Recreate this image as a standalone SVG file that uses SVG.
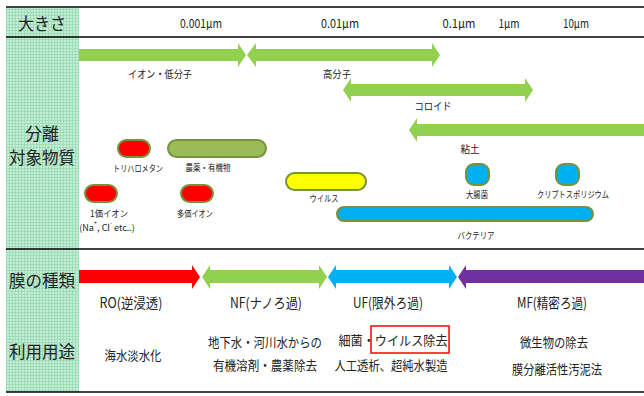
<svg xmlns="http://www.w3.org/2000/svg" width="644" height="396" viewBox="0 0 644 396">
<defs>
<pattern id="grid" width="3" height="3" patternUnits="userSpaceOnUse">
<rect width="3" height="3" fill="#c6edd5"/>
<path d="M0 0.5H3M0.5 0V3" stroke="#9fdcb8" stroke-width="1"/>
</pattern>
</defs>
<style>
text{font-family:"Noto Sans CJK JP","Liberation Sans",sans-serif;fill:#222;text-anchor:middle;dominant-baseline:central}
.hd{font-size:17px}
.sz{font-size:12px}
.lb{font-size:10.5px}
.sm{font-size:9px}
.mt{font-size:14px}
.us{font-size:13px}
.pill{stroke:#76923c;stroke-width:2}
.rule{stroke:#000;stroke-width:1.5}
</style>
<rect x="6" y="8" width="73" height="384" fill="url(#grid)"/>
<g id="rules">
<line class="rule" x1="6" y1="7" x2="644" y2="7"/>
<line class="rule" x1="6" y1="37" x2="644" y2="37"/>
<line class="rule" x1="6" y1="249" x2="644" y2="249"/>
<line class="rule" x1="6" y1="392" x2="644" y2="392"/>
</g>
<g id="row-labels">
<text class="hd" x="42" y="22" textLength="48" lengthAdjust="spacingAndGlyphs">大きさ</text>
<text class="hd" x="42" y="132" textLength="34" lengthAdjust="spacingAndGlyphs">分離</text>
<text class="hd" x="42" y="156" textLength="66" lengthAdjust="spacingAndGlyphs">対象物質</text>
<text class="hd" x="42" y="279" textLength="66" lengthAdjust="spacingAndGlyphs">膜の種類</text>
<text class="hd" x="42" y="350" textLength="66" lengthAdjust="spacingAndGlyphs">利用用途</text>
</g>
<g id="scale">
<text class="sz" x="201" y="22" textLength="42" lengthAdjust="spacingAndGlyphs">0.001μm</text>
<text class="sz" x="340" y="22" textLength="38" lengthAdjust="spacingAndGlyphs">0.01μm</text>
<text class="sz" x="459" y="22" textLength="33" lengthAdjust="spacingAndGlyphs">0.1μm</text>
<text class="sz" x="509" y="22" textLength="21" lengthAdjust="spacingAndGlyphs">1μm</text>
<text class="sz" x="576" y="22" textLength="26" lengthAdjust="spacingAndGlyphs">10μm</text>
</g>
<g id="connectors">
<polygon id="ion" fill="#92d050" points="79,49 238,49 238,43 246,55 238,67 238,61 79,61"/>
<polygon id="polymer" fill="#92d050" points="247,55 256,43 256,49 432,49 432,43 440,55 432,67 432,61 256,61 256,67"/>
<polygon id="colloid" fill="#92d050" points="343,90 351,78 351,84 525,84 525,78 533,90 525,102 525,96 351,96 351,102"/>
<polygon id="clay" fill="#92d050" points="409,130 417,118 417,124 644,124 644,136 417,136 417,142"/>
<polygon id="ro" fill="#ff0000" points="79,270 192,270 192,265 200,277 192,289 192,283 79,283"/>
<polygon id="nf" fill="#92d050" points="202,277 210,265 210,270 319,270 319,265 327,277 319,289 319,283 210,283 210,289"/>
<polygon id="uf" fill="#00b0f0" points="328,277 336,265 336,270 449,270 449,265 457,277 449,289 449,283 336,283 336,289"/>
<polygon id="mf" fill="#7030a0" points="458,277 466,265 466,270 644,270 644,283 466,283 466,289"/>
</g>
<g id="arrow-labels">
<text class="lb" x="160" y="73" textLength="64" lengthAdjust="spacingAndGlyphs">イオン・低分子</text>
<text class="lb" x="337" y="73" textLength="28" lengthAdjust="spacingAndGlyphs">高分子</text>
<text class="lb" x="433" y="105" textLength="37" lengthAdjust="spacingAndGlyphs">コロイド</text>
<text class="lb" x="470" y="148" textLength="19" lengthAdjust="spacingAndGlyphs">粘土</text>
</g>
<g id="thm"><rect class="pill" x="118" y="140" width="32" height="17" rx="8.5" fill="#ff0000"/><text class="sm" x="138" y="168" textLength="50" lengthAdjust="spacingAndGlyphs">トリハロメタン</text></g>
<g id="agro"><rect class="pill" x="168" y="140" width="98" height="17" rx="8.5" fill="#9bbb59"/><text class="sm" x="208" y="167" textLength="45" lengthAdjust="spacingAndGlyphs">農薬・有機物</text></g>
<g id="mono"><rect class="pill" x="85" y="185" width="32" height="17" rx="8.5" fill="#ff0000"/><text class="sm" x="109" y="213" textLength="38" lengthAdjust="spacingAndGlyphs">1価イオン</text><text class="sm" x="107" y="227">(Na<tspan baseline-shift="super" font-size="6">+</tspan>, Cl<tspan baseline-shift="super" font-size="6">-</tspan> etc..)</text></g>
<g id="multi"><rect class="pill" x="181" y="185" width="32" height="17" rx="8.5" fill="#ff0000"/><text class="sm" x="195" y="213" textLength="36" lengthAdjust="spacingAndGlyphs">多価イオン</text></g>
<g id="virus"><rect class="pill" x="286" y="173" width="80" height="17" rx="8.5" fill="#ffff00"/><text class="sm" x="324" y="198" textLength="29" lengthAdjust="spacingAndGlyphs">ウイルス</text></g>
<g id="ecoli"><rect class="pill" x="466" y="164" width="23" height="21" rx="8" fill="#00b0f0"/><text class="sm" x="477" y="194" textLength="22" lengthAdjust="spacingAndGlyphs">大腸菌</text></g>
<g id="crypto"><rect class="pill" x="556" y="164" width="23" height="21" rx="8" fill="#00b0f0"/><text class="sm" x="573" y="194" textLength="72" lengthAdjust="spacingAndGlyphs">クリプトスポリジウム</text></g>
<g id="bacteria"><rect class="pill" x="337" y="207" width="256" height="14" rx="7" fill="#00b0f0"/><text class="sm" x="476" y="235" textLength="37" lengthAdjust="spacingAndGlyphs">バクテリア</text></g>
<g id="membranes">
<text class="mt" x="131" y="302" textLength="63" lengthAdjust="spacingAndGlyphs">RO(逆浸透)</text>
<text class="mt" x="266" y="302" textLength="72" lengthAdjust="spacingAndGlyphs">NF(ナノろ過)</text>
<text class="mt" x="388" y="302" textLength="70" lengthAdjust="spacingAndGlyphs">UF(限外ろ過)</text>
<text class="mt" x="552" y="302" textLength="70" lengthAdjust="spacingAndGlyphs">MF(精密ろ過)</text>
</g>
<g id="uses">
<text class="us" x="133" y="354" textLength="57" lengthAdjust="spacingAndGlyphs">海水淡水化</text>
<text class="us" x="265" y="341" textLength="114" lengthAdjust="spacingAndGlyphs">地下水・河川水からの</text>
<text class="us" x="265" y="364" textLength="104" lengthAdjust="spacingAndGlyphs">有機溶剤・農薬除去</text>
<text class="us" x="393" y="339" textLength="109" lengthAdjust="spacingAndGlyphs">細菌・ウイルス除去</text>
<rect x="371" y="326" width="78" height="27" fill="none" stroke="#ff0000" stroke-width="1.5"/>
<text class="us" x="391" y="364" textLength="113" lengthAdjust="spacingAndGlyphs">人工透析、超純水製造</text>
<text class="us" x="554" y="341" textLength="68" lengthAdjust="spacingAndGlyphs">微生物の除去</text>
<text class="us" x="557" y="368" textLength="90" lengthAdjust="spacingAndGlyphs">膜分離活性汚泥法</text>
</g>
</svg>
